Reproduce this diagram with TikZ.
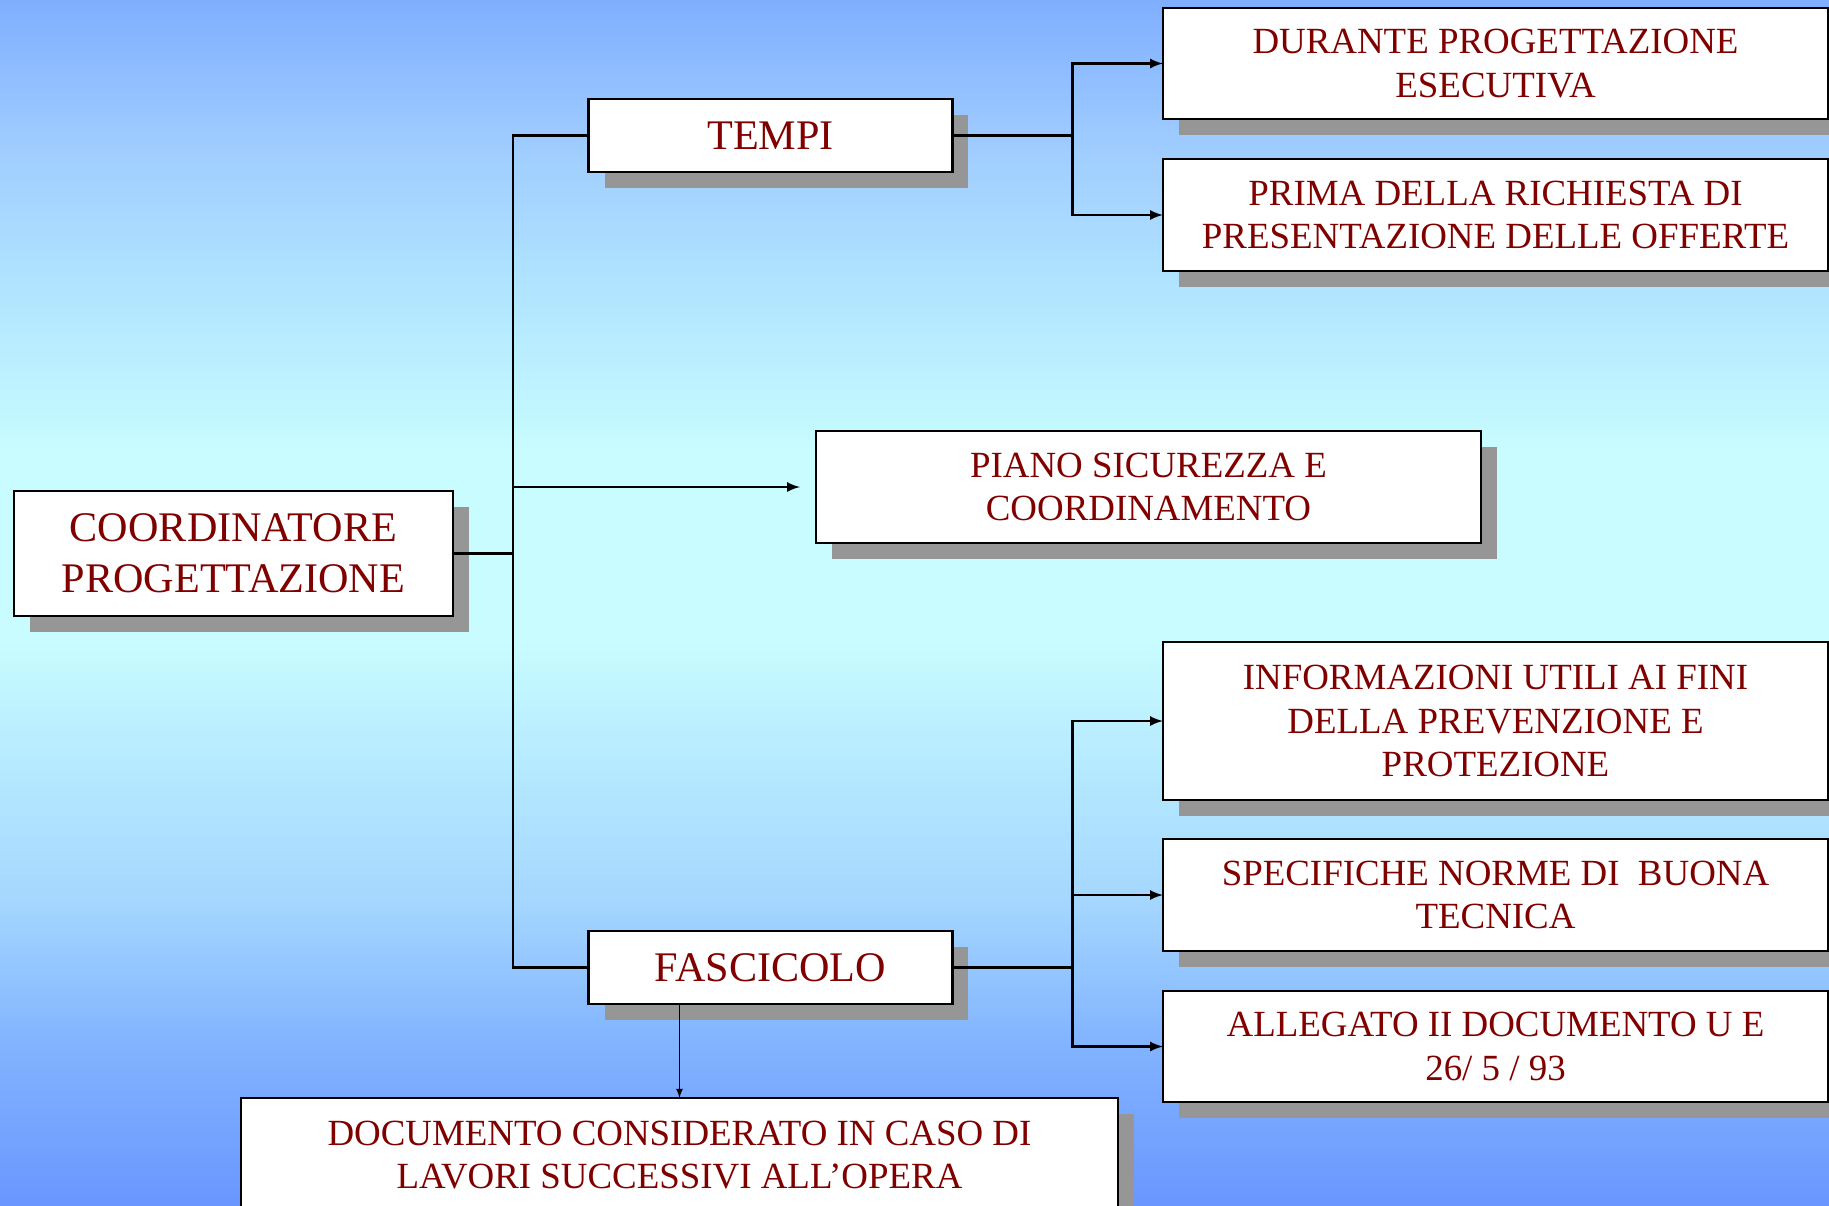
\documentclass[tikz,border=0pt]{standalone}
\usepackage{fontspec}
\setmainfont{Liberation Serif}
\usepackage{tikz}
\usetikzlibrary{positioning}
\usetikzlibrary{shadows}
\usepackage{xcolor}
\definecolor{darkred}{RGB}{128,0,0}
\definecolor{shadowgray}{RGB}{150,150,150}
\definecolor{skytop}{RGB}{127,174,255}
\definecolor{skyhigh}{RGB}{160,205,255}
\definecolor{skypale}{RGB}{178,230,255}
\definecolor{skymid}{RGB}{200,252,255}
\definecolor{skylow}{RGB}{165,215,255}
\definecolor{skydeep}{RGB}{130,180,255}
\definecolor{skybottom}{RGB}{105,150,255}
\pgfdeclareverticalshading{sky}{100bp}{
	color(0bp)=(skybottom); color(25bp)=(skybottom); color(31.8bp)=(skydeep);
	color(37.7bp)=(skylow); color(42.2bp)=(skypale); color(48.4bp)=(skymid);
	color(56.3bp)=(skymid); color(62.6bp)=(skypale); color(68.8bp)=(skyhigh);
	color(75bp)=(skytop); color(100bp)=(skytop)
}
\tikzset{
	block/.style={
		rectangle,
		draw,
		fill=white,
		line width=1.6pt,
		align=center,
		text=darkred,
		inner sep=0pt,
		outer sep=0pt,
		drop shadow={shadow xshift=.32cm, shadow yshift=-.32cm, fill=shadowgray, opacity=1},
		font=\fontsize{21}{24.7}\selectfont
	},
	bigblock/.style={
		block,
		font=\fontsize{24}{28.9}\selectfont
	},
	link/.style={line width=1.5pt},
	arrow/.style={link, -latex},
	thinarrow/.style={line width=.8pt, -latex}
}

\begin{document}
\begin{tikzpicture}
			\useasboundingbox (0,0) rectangle (36.58,-24.1);
			\clip (0,0) rectangle (36.58,-24.1);
			\shade[shading=sky] (0,0) rectangle (36.58,-24.1);
			
			\draw node[bigblock, minimum width=8.78cm, minimum height=2.5cm](Coordinatore) at (4.67,-11.07){COORDINATORE\\PROGETTAZIONE};
			\draw node[bigblock, minimum width=7.27cm, minimum height=1.46cm](Tempi) at (15.41,-2.71){TEMPI};
			\draw node[bigblock, minimum width=7.27cm, minimum height=1.46cm, below=15.18cm of Tempi](Fascicolo){FASCICOLO};
			\draw node[block, minimum width=13.3cm, minimum height=2.24cm](Piano) at (22.97,-9.74){PIANO SICUREZZA E\\COORDINAMENTO};
			
			\draw node[block, minimum width=13.3cm, minimum height=2.22cm](Durante) at (29.91,-1.27){DURANTE PROGETTAZIONE\\ESECUTIVA};
			\draw node[block, minimum width=13.3cm, minimum height=2.24cm, below=0.8cm of Durante](Prima){PRIMA DELLA RICHIESTA DI\\PRESENTAZIONE DELLE OFFERTE};
			
			\draw node[block, minimum width=13.3cm, minimum height=3.16cm](Informazioni) at (29.91,-14.42){INFORMAZIONI UTILI AI FINI\\DELLA PREVENZIONE E\\PROTEZIONE};
			\draw node[block, minimum width=13.3cm, minimum height=2.24cm, below=0.78cm of Informazioni](Specifiche){SPECIFICHE NORME DI\ \ BUONA\\TECNICA};
			\draw node[block, minimum width=13.3cm, minimum height=2.22cm, below=0.8cm of Specifiche](Allegato){ALLEGATO II DOCUMENTO U E\\26/ 5 / 93};
			
			\draw node[block, minimum width=17.54cm, minimum height=2.28cm](Documento) at (13.59,-23.1){DOCUMENTO CONSIDERATO IN CASO DI\\LAVORI SUCCESSIVI ALL’OPERA};
			
			\coordinate (Split) at (10.26,-11.07);
			\coordinate[right=2.4cm of Tempi] (TempiFork);
			\coordinate[right=2.4cm of Fascicolo] (FascicoloFork);
			
			\draw [link] (Coordinatore) -- (Split);
			\draw [link] (Tempi) -| (Split) |- (Fascicolo);
			\draw [arrow, shorten >=0.32cm] (Split |- Piano) -- (Piano);
			
			\draw [link] (Tempi) -- (TempiFork);
			\draw [arrow] (TempiFork) |- (Durante);
			\draw [arrow] (TempiFork) |- (Prima);
			
			\draw [link] (Fascicolo) -- (FascicoloFork);
			\draw [arrow] (FascicoloFork) |- (Informazioni);
			\draw [arrow] (FascicoloFork) |- (Specifiche);
			\draw [arrow] (FascicoloFork) |- (Allegato);
			
			\draw [thinarrow] (Fascicolo.south -| Documento.north) -- (Documento.north);
		\end{tikzpicture}
\end{document}
